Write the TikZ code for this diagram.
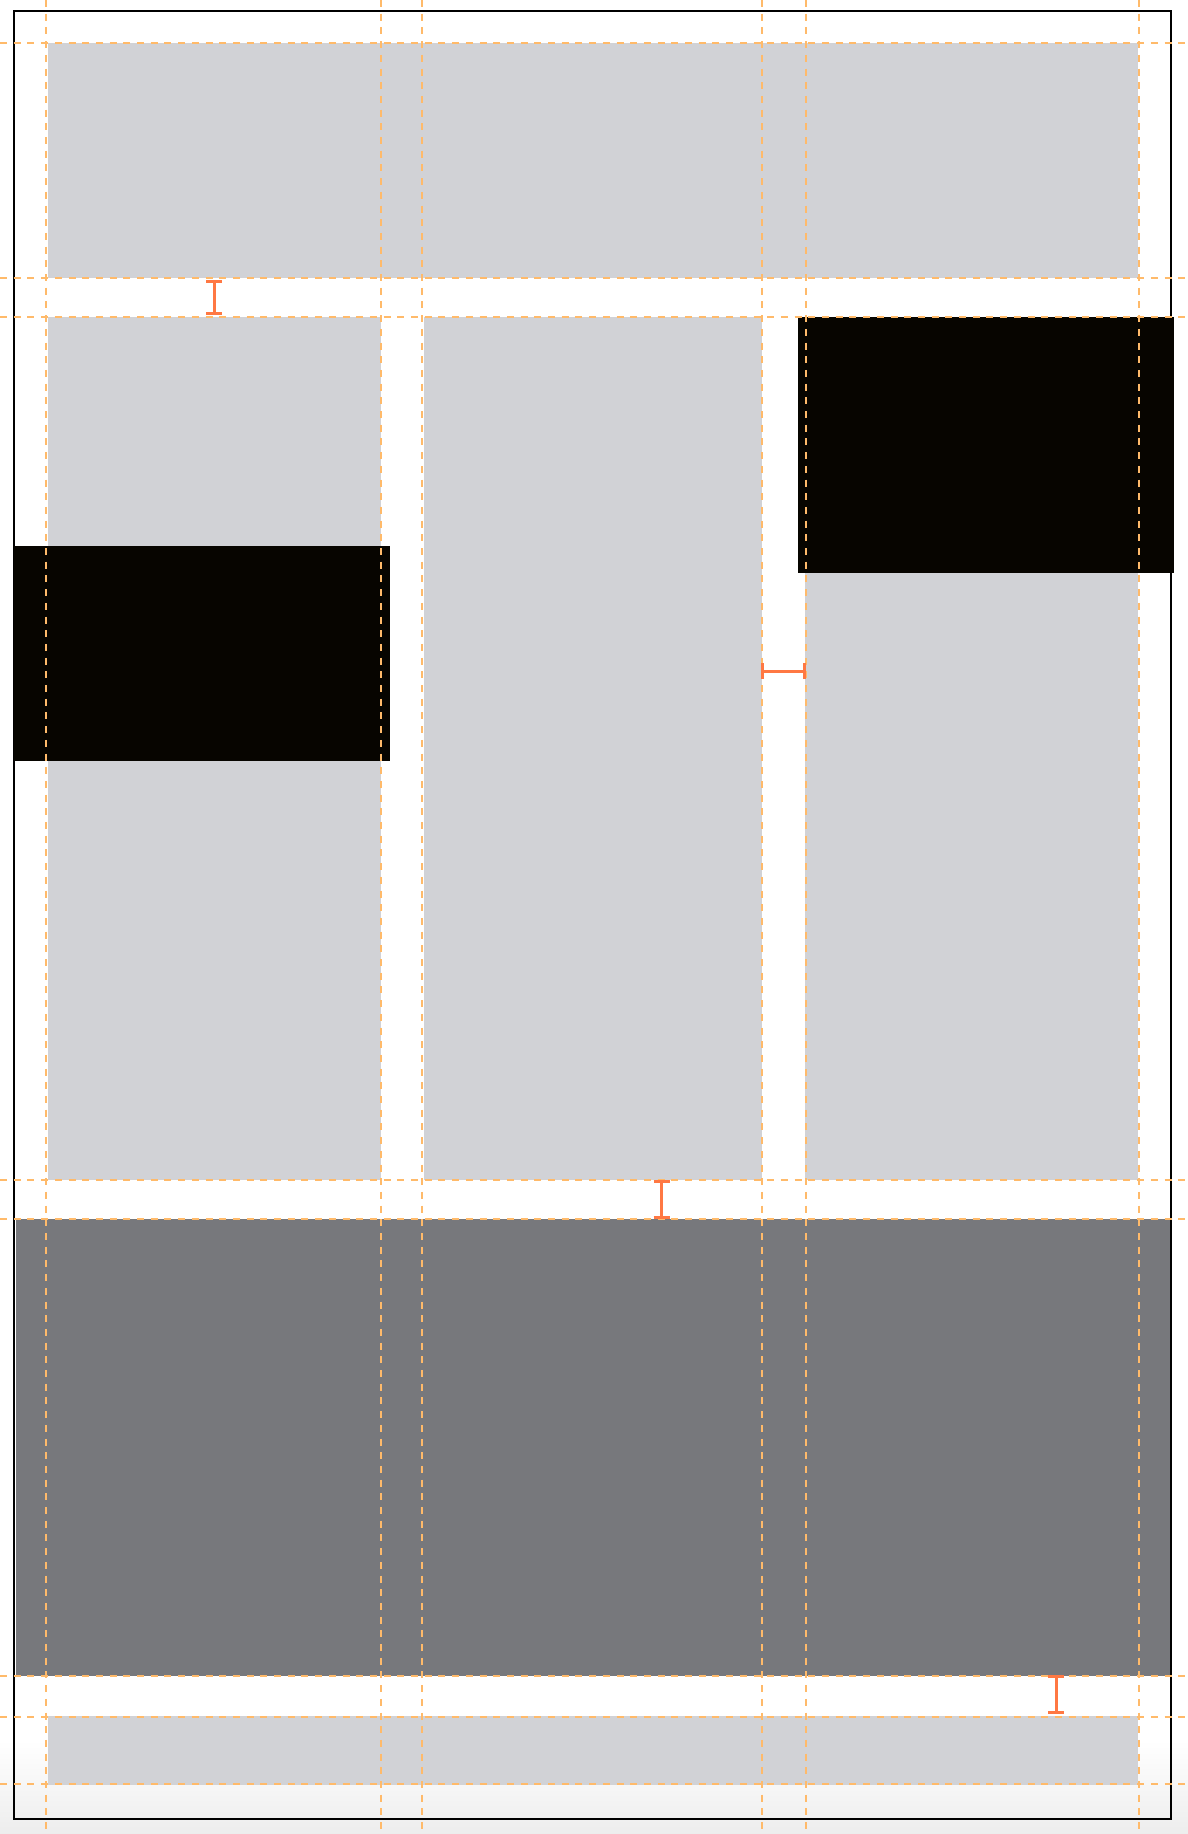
\documentclass[tikz,border=0pt]{standalone}
\definecolor{lightbox}{HTML}{D1D2D6}
\definecolor{darkbox}{HTML}{77787C}
\definecolor{blackbox}{HTML}{070500}
\definecolor{guidecol}{HTML}{FFBA6A}
\definecolor{measurecol}{HTML}{FF7843}
\tikzset{
  lightrect/.style={fill=lightbox},
  darkrect/.style={fill=darkbox},
  blackrect/.style={fill=blackbox},
  guideline/.style={draw=guidecol, line width=2.3pt, dash pattern=on 7pt off 6.7pt},
  measureline/.style={draw=measurecol, line width=2.7pt},
  frameline/.style={draw=black, line width=2.3pt}
}
\begin{document}
\begin{tikzpicture}[x=1pt,y=-1pt]
\useasboundingbox (0,0) rectangle (1188,1834);
\fill[white] (0,0) rectangle (1188,1834);
\shade[top color=white, bottom color=black!7] (0,1740) rectangle (1188,1834);
% frame
\draw[frameline] (14.3,11.3) rectangle (1171.3,1819);
% top band
\fill[lightrect] (48,43.3) rectangle (1138,278.3);
% columns
\fill[lightrect] (48,317.3) rectangle (381,1180);
\fill[lightrect] (424,317.3) rectangle (762,1180);
\fill[lightrect] (805,317.3) rectangle (1138,1180);
% black blocks
\fill[blackrect] (14,546) rectangle (390,761);
\fill[blackrect] (798,317.3) rectangle (1174,573);
% dark band
\fill[darkrect] (15.5,1219.3) rectangle (1170.3,1675.5);
% bottom strip
\fill[lightrect] (48,1716) rectangle (1138,1785);
% guides
\foreach \gx in {46.3,381.3,422.3,762.3,806.3,1139.3}
  \draw[guideline] (\gx,0) -- (\gx,1834);
\foreach \gy in {43.3,278.3,317.3,1180,1219.3,1676,1717,1784.3}
  \draw[guideline] (0,\gy) -- (1188,\gy);
% measures
\draw[measureline] (214.3,281.7) -- (214.3,313.3);
\draw[measureline] (206.3,281.7) -- (222.3,281.7);
\draw[measureline] (206.3,313.3) -- (222.3,313.3);
\draw[measureline] (661.7,1181.5) -- (661.7,1217.8);
\draw[measureline] (653.7,1181.5) -- (669.7,1181.5);
\draw[measureline] (653.7,1217.8) -- (669.7,1217.8);
\draw[measureline] (1056.3,1676.5) -- (1056.3,1712.3);
\draw[measureline] (1048.3,1676.5) -- (1064.3,1676.5);
\draw[measureline] (1048.3,1712.3) -- (1064.3,1712.3);
\draw[measureline] (762.5,671.3) -- (804.5,671.3);
\draw[measureline] (762.5,663.3) -- (762.5,679.3);
\draw[measureline] (804.5,663.3) -- (804.5,679.3);
\end{tikzpicture}
\end{document}
